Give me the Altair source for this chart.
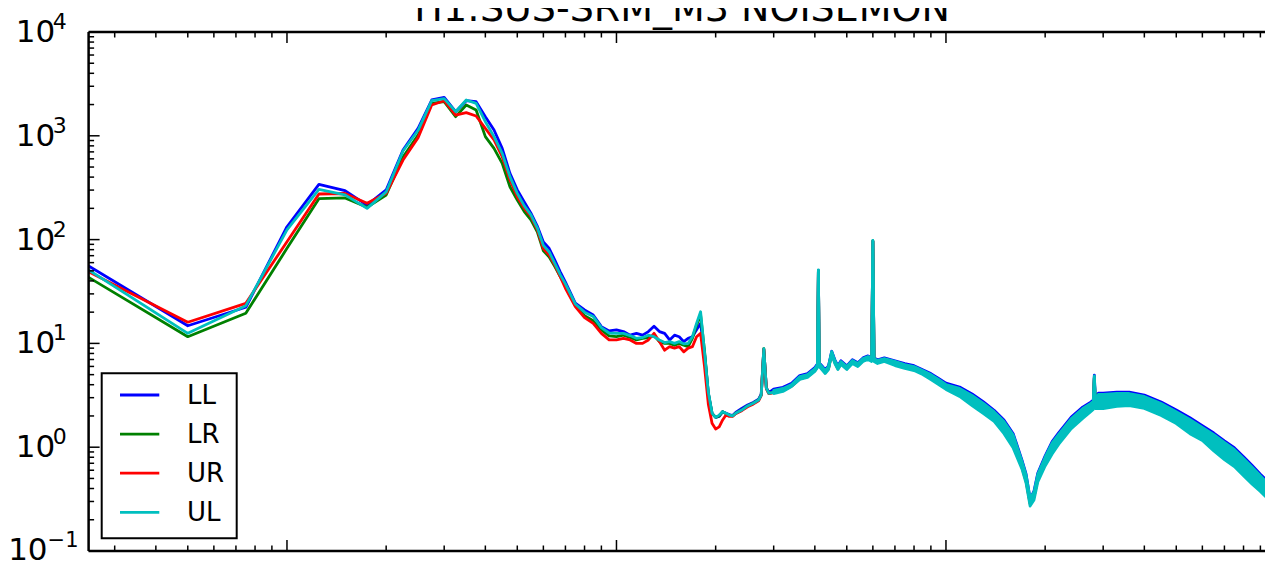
import altair as alt
import pandas as pd

# ---------------- data ----------------
FREQ_LOW = [0.25, 0.5, 0.75, 1.0, 1.25, 1.5, 1.75, 2.0, 2.25, 2.5, 2.75, 3.0, 3.25, 3.5, 3.75,
            4.0, 4.25, 4.5, 4.75, 5.0, 5.25, 5.5, 5.75, 6.0, 6.25, 6.5, 6.75, 7.0, 7.5, 8.0,
            8.5, 9.0, 9.5, 10.0, 10.5, 11.0, 11.5, 12.0, 12.5, 13.0, 13.5, 14.0, 14.5, 15.0,
            15.5, 16.0, 16.5, 17.0, 17.5, 18.0, 18.5, 19.0, 19.5, 20.0]
FREQ_MID = [20.5, 21, 21.5, 22, 22.5, 23, 24, 25, 26, 27, 27.5, 28, 28.5, 29]
BAND_F = [30, 32, 34, 36, 38, 40, 40.75, 41, 41.25, 42,
          43, 44, 45, 46, 47, 48, 50, 52, 54, 56,
          58, 59.5, 60, 60.5, 62, 65, 70, 75, 80, 85,
          90, 95, 100, 110, 120, 130, 140, 150, 160, 170,
          175, 180, 185, 190, 200, 210, 220, 240, 260, 275,
          280, 282, 284, 290, 300, 330, 360, 400, 450, 500,
          550, 600, 650, 700, 750, 800, 850, 900, 950, 1000]

LL_LOW = [55.7, 14.8, 22.3, 133, 341, 296, 215, 301, 730, 1180, 2213, 2350, 1707, 2178, 2131,
          1528, 1137, 757, 435, 301, 230, 180, 135, 95, 82, 63.5, 49, 39, 24.5, 21,
          18.8, 14.5, 13.2, 13.5, 13.0, 12.0, 12.5, 12.0, 13.0, 14.6, 13.0, 12.5, 10.8, 12.0,
          11.6, 10.4, 11.2, 11.6, 13.5, 15.6, 8.0, 3.3, 2.12, 1.94]
LR_LOW = [43.3, 11.6, 19.5, 82.4, 248, 252, 205, 269, 625, 1018, 2056, 2131, 1529, 1980, 1774,
          982, 757, 543, 323, 241, 186, 155, 119, 78, 68, 55, 44, 36, 23.5, 18.5,
          16.5, 13.5, 11.8, 11.6, 12.0, 11.4, 10.8, 11.2, 11.4, 11.9, 10.4, 10.0, 10.0, 9.6,
          10.0, 9.6, 9.3, 11.2, 15.0, 18.8, 8.5, 3.3, 2.12, 1.94]
UR_LOW = [49.1, 16.0, 24.3, 95.5, 275, 278, 224, 279, 584, 960, 1980, 2178, 1586, 1671, 1552,
          1181, 912, 629, 375, 259, 200, 167, 125, 82, 71, 57, 44, 34, 22.6, 17.7,
          15.6, 12.5, 10.8, 10.8, 11.2, 10.8, 10.0, 10.0, 10.8, 12.5, 10.4, 8.6, 9.3, 9.0,
          9.3, 8.3, 9.0, 9.3, 11.6, 12.5, 6.0, 2.6, 1.70, 1.50]
UL_LOW = [51, 12.5, 23.1, 124, 305, 270, 200, 288, 714, 1130, 2180, 2280, 1707, 2213, 2056,
          1368, 982, 678, 404, 279, 211, 173, 130, 88, 76, 59, 46, 37.5, 24, 20,
          18.2, 14.2, 12.6, 12.5, 12.5, 11.9, 11.2, 11.4, 12.0, 11.6, 10.8, 10.2, 10.4, 10.0,
          10.4, 9.9, 10.0, 11.6, 15.6, 20.2, 8.3, 3.4, 2.12, 1.94]

LL_MID = [1.98, 2.2, 2.12, 2.06, 2.02, 2.16, 2.36, 2.55, 2.7, 2.9, 3.25, 8.7, 3.75, 3.35]
LR_MID = [2.0, 2.2, 2.1, 2.04, 2.0, 2.12, 2.28, 2.5, 2.65, 2.85, 3.18, 8.9, 3.7, 3.3]
UR_MID = [1.57, 1.83, 2.04, 1.98, 1.98, 2.1, 2.25, 2.45, 2.6, 2.8, 3.15, 8.8, 3.65, 3.28]
UL_MID = [2.04, 2.2, 2.12, 2.04, 2.0, 2.12, 2.28, 2.5, 2.65, 2.85, 3.18, 8.9, 3.7, 3.3]

LL_HIGH = [3.62, 3.78, 4.12, 4.90, 5.12, 5.85, 6.35, 50.5, 6.50, 6.10,
           5.58, 6.08, 8.40, 6.95, 6.08, 6.80, 6.08, 6.95, 6.50, 7.25,
           7.58, 7.25, 96.0, 7.25, 6.95, 7.25, 6.80, 6.38, 6.10, 5.58,
           5.12, 4.60, 4.14, 3.80, 3.26, 2.73, 2.27, 1.83, 1.35, 0.755,
           0.552, 0.318, 0.378, 0.565, 0.825, 1.13, 1.38, 1.95, 2.43, 2.72,
           2.85, 4.95, 2.97, 3.32, 3.32, 3.40, 3.40, 3.18, 2.73, 2.28,
           1.92, 1.61, 1.37, 1.15, 0.99, 0.81, 0.665, 0.55, 0.465, 0.405]
LR_HIGH = [3.38, 3.52, 3.90, 4.60, 4.82, 5.50, 6.00, 50.0, 6.15, 5.75,
           5.28, 5.75, 8.05, 6.60, 5.75, 6.45, 5.76, 6.60, 6.15, 6.90,
           7.20, 6.90, 97.0, 6.90, 6.60, 6.90, 6.38, 5.97, 5.70, 5.22,
           4.72, 4.22, 3.78, 3.33, 2.80, 2.34, 1.95, 1.53, 1.12, 0.67,
           0.49, 0.292, 0.335, 0.50, 0.72, 0.96, 1.19, 1.67, 2.09, 2.39,
           2.50, 4.68, 2.58, 2.73, 2.73, 2.82, 2.85, 2.67, 2.29, 1.91,
           1.56, 1.33, 1.09, 0.91, 0.78, 0.64, 0.525, 0.443, 0.375, 0.334]
UR_HIGH = [3.35, 3.50, 3.88, 4.55, 4.78, 5.45, 5.95, 49.5, 6.10, 5.70,
           5.22, 5.70, 8.00, 6.55, 5.70, 6.40, 5.70, 6.55, 6.10, 6.85,
           7.15, 6.85, 96.5, 6.85, 6.55, 6.85, 6.30, 5.90, 5.62, 5.15,
           4.65, 4.15, 3.70, 3.25, 2.70, 2.25, 1.88, 1.46, 1.06, 0.64,
           0.47, 0.285, 0.33, 0.49, 0.70, 0.93, 1.15, 1.62, 2.03, 2.33,
           2.44, 4.60, 2.52, 2.65, 2.65, 2.74, 2.77, 2.60, 2.22, 1.85,
           1.51, 1.28, 1.05, 0.88, 0.75, 0.615, 0.505, 0.43, 0.36, 0.325]
UL_HIGH = [3.40, 3.56, 3.93, 4.64, 4.85, 5.54, 6.06, 50.0, 6.19, 5.79,
           5.30, 5.79, 8.08, 6.62, 5.79, 6.48, 5.79, 6.62, 6.19, 6.92,
           7.23, 6.92, 97.0, 6.92, 6.62, 6.92, 6.40, 6.00, 5.73, 5.24,
           4.75, 4.25, 3.80, 3.36, 2.82, 2.36, 1.97, 1.55, 1.13, 0.675,
           0.495, 0.296, 0.339, 0.505, 0.728, 0.97, 1.20, 1.69, 2.11, 2.41,
           2.52, 4.70, 2.61, 2.76, 2.76, 2.85, 2.88, 2.70, 2.31, 1.93,
           1.58, 1.34, 1.10, 0.92, 0.79, 0.645, 0.53, 0.447, 0.378, 0.337]

# spread of the noisy UL trace at high frequency (band edges)
UL_HI = [3.52, 3.68, 4.02, 4.80, 5.01, 5.73, 6.26, 51.0, 6.40, 5.99,
         5.48, 5.99, 8.35, 6.85, 5.99, 6.70, 5.99, 6.85, 6.40, 7.15,
         7.48, 7.15, 98.0, 7.15, 6.85, 7.15, 6.70, 6.26, 5.99, 5.48,
         5.01, 4.49, 4.02, 3.68, 3.15, 2.64, 2.20, 1.77, 1.31, 0.737,
         0.540, 0.324, 0.370, 0.552, 0.805, 1.10, 1.34, 1.89, 2.36, 2.64,
         2.76, 4.85, 2.88, 3.22, 3.22, 3.29, 3.29, 3.08, 2.64, 2.20,
         1.85, 1.55, 1.32, 1.11, 0.95, 0.78, 0.64, 0.53, 0.447, 0.39]
UL_LO = [3.29, 3.44, 3.84, 4.49, 4.70, 5.36, 5.86, 48.0, 5.99, 5.60,
         5.13, 5.60, 7.82, 6.40, 5.60, 6.26, 5.60, 6.40, 5.99, 6.70,
         7.00, 6.70, 95.0, 6.70, 6.40, 6.70, 6.12, 5.73, 5.48, 5.01,
         4.49, 4.02, 3.60, 3.08, 2.52, 2.11, 1.77, 1.35, 0.98, 0.617,
         0.452, 0.271, 0.310, 0.462, 0.659, 0.86, 1.07, 1.51, 1.89, 2.20,
         2.31, 4.50, 2.36, 2.36, 2.36, 2.47, 2.52, 2.36, 2.02, 1.69,
         1.35, 1.16, 0.92, 0.76, 0.65, 0.53, 0.44, 0.375, 0.317, 0.29]

SERIES = ["LL", "LR", "UR", "UL"]
COLORS = ["#0000ff", "#008000", "#ff0000", "#00bfbf"]
VALUES = {
    "LL": LL_LOW + LL_MID + LL_HIGH,
    "LR": LR_LOW + LR_MID + LR_HIGH,
    "UR": UR_LOW + UR_MID + UR_HIGH,
    "UL": UL_LOW + UL_MID + UL_HIGH,
}
FREQ = FREQ_LOW + FREQ_MID + BAND_F

Y_LABEL_VALUES = [0.1, 1, 10, 100, 1000, 10000]
Y_LABEL_EXP = ["\u22121", "0", "1", "2", "3", "4"]
Y_MAJOR = [0.1, 1, 10, 100, 1000, 10000]
Y_MINOR = [0.2, 0.3, 0.4, 0.5, 0.6, 0.7, 0.8, 0.9,
           2, 3, 4, 5, 6, 7, 8, 9,
           20, 30, 40, 50, 60, 70, 80, 90,
           200, 300, 400, 500, 600, 700, 800, 900,
           2000, 3000, 4000, 5000, 6000, 7000, 8000, 9000]
X_MAJOR = [1, 10, 100]
X_MINOR = [0.3, 0.4, 0.5, 0.6, 0.7, 0.8, 0.9,
           2, 3, 4, 5, 6, 7, 8, 9,
           20, 30, 40, 50, 60, 70, 80, 90,
           200, 300, 400, 500, 600, 700, 800, 900]

TITLE = "H1:SUS-SRM_M3 NOISEMON"

# ---------------- chart ----------------
# the original axes run past the right edge of the picture; only the visible part is drawn
W, H = 1176.4, 519
FULL_W = 1187            # width the full axes box would have (title is centred on it)
FONT = "DejaVu Sans"
LW = 2.8
xs = alt.Scale(type="log", domain=[0.25, 929.5], nice=False)
ys = alt.Scale(type="log", domain=[0.1, 10000], nice=False)

layers = []

# series lines (drawn in legend order so UL ends on top)
for name, col in zip(SERIES, COLORS):
    df = pd.DataFrame({"f": FREQ, "v": VALUES[name]})
    layers.append(
        alt.Chart(df).mark_line(color=col, strokeWidth=LW, strokeJoin="round", clip=True).encode(
            x=alt.X("f:Q", scale=xs, axis=None),
            y=alt.Y("v:Q", scale=ys, axis=None),
        )
    )

# spread of the UL trace at high frequency
band = pd.DataFrame({"f": BAND_F, "lo": UL_LO, "hi": UL_HI})
layers.append(
    alt.Chart(band).mark_area(color=COLORS[3], stroke=COLORS[3], strokeWidth=LW,
                              strokeJoin="round", opacity=1, clip=True).encode(
        x=alt.X("f:Q", scale=xs, axis=None),
        y=alt.Y("lo:Q", scale=ys, axis=None),
        y2="hi:Q",
    )
)

one = pd.DataFrame({"a": [0]})

# axes frame (left, top, bottom spines)
SPINE = 2.5
layers += [
    alt.Chart(one).mark_rule(color="black", strokeWidth=SPINE).encode(
        x=alt.value(0), y=alt.value(0), y2=alt.value(H)),
    alt.Chart(one).mark_rule(color="black", strokeWidth=SPINE).encode(
        y=alt.value(0), x=alt.value(0), x2=alt.value(W)),
    alt.Chart(one).mark_rule(color="black", strokeWidth=SPINE).encode(
        y=alt.value(H), x=alt.value(0), x2=alt.value(W)),
]

# inward tick marks
def yticks(vals, x0, x1):
    return alt.Chart(pd.DataFrame({"v": vals})).mark_rule(color="black", strokeWidth=1.5).encode(
        y=alt.Y("v:Q", scale=ys, axis=None), x=alt.value(x0), x2=alt.value(x1))

def xticks(vals, y0, y1):
    return alt.Chart(pd.DataFrame({"v": vals})).mark_rule(color="black", strokeWidth=1.5).encode(
        x=alt.X("v:Q", scale=xs, axis=None), y=alt.value(y0), y2=alt.value(y1))

MAJ, MIN = 11, 5.5
layers += [
    yticks(Y_MAJOR, 0, MAJ), yticks(Y_MINOR, 0, MIN),
    xticks(X_MAJOR, 0, MAJ), xticks(X_MINOR, 0, MIN),
    xticks(X_MAJOR, H, H - MAJ), xticks(X_MINOR, H, H - MIN),
]

# y tick labels: "10" with a superscript exponent
lab = pd.DataFrame({"v": Y_LABEL_VALUES, "e": Y_LABEL_EXP})
base_lab = alt.Chart(lab)
layers.append(
    base_lab.transform_filter("datum.v >= 1").mark_text(
        text="10", align="right", baseline="alphabetic", fontSize=31, font=FONT, dy=10, color="black"
    ).encode(y=alt.Y("v:Q", scale=ys, axis=None), x=alt.value(-33.3))
)
layers.append(
    base_lab.transform_filter("datum.v < 1").mark_text(
        text="10", align="right", baseline="alphabetic", fontSize=31, font=FONT, dy=8.5, color="black"
    ).encode(y=alt.Y("v:Q", scale=ys, axis=None), x=alt.value(-41))
)
layers.append(
    base_lab.transform_filter("datum.v >= 1").mark_text(
        align="left", baseline="alphabetic", fontSize=22, font=FONT, dy=-3, color="black"
    ).encode(y=alt.Y("v:Q", scale=ys, axis=None), x=alt.value(-35.8), text="e:N")
)
layers.append(
    base_lab.transform_filter("datum.v < 1").mark_text(
        align="left", baseline="alphabetic", fontSize=21, font=FONT, dy=-4.5, color="black"
    ).encode(y=alt.Y("v:Q", scale=ys, axis=None), x=alt.value(-41), text="e:N")
)

# title (its top runs off the top of the picture, as in the original)
layers.append(
    alt.Chart(one).mark_text(text=TITLE, align="center", baseline="alphabetic", fontSize=38,
                             font=FONT, color="black").encode(
        x=alt.value(FULL_W / 2), y=alt.value(-11))
)

# legend (boxed, lower left)
LX0, LX1, LY0, LY1 = 13.1, 148.1, 341.3, 506.3
layers.append(
    alt.Chart(one).mark_rect(fill="white", stroke="black", strokeWidth=2).encode(
        x=alt.value(LX0), x2=alt.value(LX1), y=alt.value(LY0), y2=alt.value(LY1))
)
for i, (name, col) in enumerate(zip(SERIES, COLORS)):
    ry = 363 + 39.1 * i
    layers.append(
        alt.Chart(one).mark_rule(color=col, strokeWidth=LW).encode(
            x=alt.value(31.4), x2=alt.value(70.7), y=alt.value(ry))
    )
    layers.append(
        alt.Chart(one).mark_text(text=name, align="left", baseline="alphabetic", fontSize=26,
                                 font=FONT, dy=9, color="black").encode(
            x=alt.value(98.4), y=alt.value(ry))
    )

chart = alt.layer(*layers).properties(
    width=W,
    height=H,
    padding={"left": 80.6, "top": 24, "right": 0, "bottom": 9},
    autosize=alt.AutoSizeParams(type="none"),
).configure_view(stroke="transparent").configure(background="white")

chart.save("out.html", embed_options={"renderer": "svg", "actions": False})
